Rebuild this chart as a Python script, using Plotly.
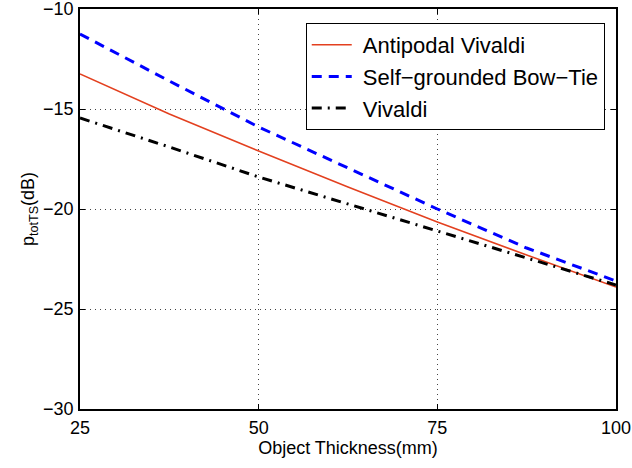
import plotly.graph_objects as go

thickness = [25, 37.5, 50, 62.5, 75, 87.5, 100]
antipodal_vivaldi = [-13.25, -15.25, -17.1, -18.9, -20.65, -22.3, -23.9]
bow_tie = [-11.25, -13.6, -15.9, -17.95, -20.0, -21.95, -23.6]
vivaldi = [-15.45, -16.9, -18.4, -19.75, -21.1, -22.45, -23.8]

x_ticks = [25, 50, 75, 100]
y_ticks = [-30, -25, -20, -15, -10]

FONT = "Liberation Sans, Arial, Helvetica, sans-serif"
PAD = "\u00a0"

fig = go.Figure()
fig.add_trace(go.Scatter(x=thickness, y=antipodal_vivaldi, mode="lines",
                         name=PAD + "Antipodal Vivaldi",
                         line=dict(color="#e3401f", width=1.5)))
fig.add_trace(go.Scatter(x=thickness, y=bow_tie, mode="lines",
                         name=PAD + "Self\u2212grounded Bow\u2212Tie",
                         line=dict(color="#0000ff", width=3, dash="10px,7px")))
fig.add_trace(go.Scatter(x=thickness, y=vivaldi, mode="lines",
                         name=PAD + "Vivaldi",
                         line=dict(color="#000000", width=3, dash="10px,6px,2px,6px")))

axis_common = dict(
    showline=True, linecolor="black", linewidth=1.5, mirror="ticks",
    ticks="inside", ticklen=5, tickcolor="black", tickwidth=1,
    showgrid=True, gridcolor="#444444", gridwidth=1, griddash="1px,4px",
    zeroline=False, automargin=False, ticklabeloverflow="allow",
    tickfont=dict(family=FONT, size=18, color="black"),
)

fig.update_xaxes(range=[25, 100], tickvals=x_ticks,
                 title=dict(text="Object Thickness(mm)", font=dict(family=FONT, size=18, color="black"), standoff=4),
                 ticklabelstandoff=2, **axis_common)
fig.update_yaxes(range=[-30, -10], tickvals=y_ticks,
                 title=dict(text="p<sub>totTS</sub>(dB)", font=dict(family=FONT, size=18, color="black"), standoff=4),
                 ticklabelstandoff=1, **axis_common)

fig.update_layout(
    width=632, height=468,
    margin=dict(l=80, r=16, t=9, b=59, autoexpand=False),
    paper_bgcolor="white", plot_bgcolor="white",
    showlegend=True,
    legend=dict(x=0.979, y=0.965, xanchor="right", yanchor="top",
                bgcolor="white", bordercolor="black", borderwidth=1,
                font=dict(family=FONT, size=22, color="black"),
                tracegroupgap=0, itemwidth=40),
)

fig.write_html("out.html", config={"displayModeBar": False},
               post_script="document.body.style.margin='0';document.body.style.padding='0';")
